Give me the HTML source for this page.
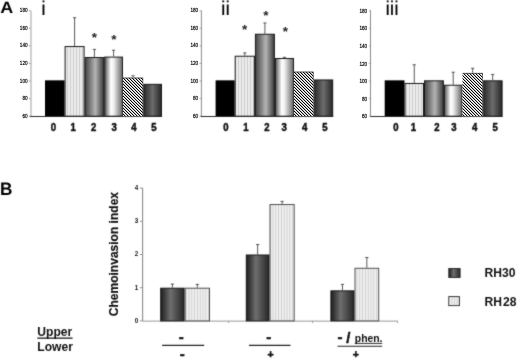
<!DOCTYPE html>
<html lang="en"><head><meta charset="utf-8"><title>Figure</title>
<style>
html,body{margin:0;padding:0;background:#fff;}
body{width:520px;height:358px;overflow:hidden;}
svg{display:block;font-family:"Liberation Sans", Arial, Helvetica, sans-serif;}
</style></head><body>
<svg width="520" height="358" viewBox="0 0 520 358">
<defs>
<filter id="soft" x="0" y="0" width="520" height="358" filterUnits="userSpaceOnUse" color-interpolation-filters="sRGB"><feConvolveMatrix order="3" kernelMatrix="1 3 1 3 24 3 1 3 1" divisor="40" edgeMode="duplicate" preserveAlpha="false"/></filter>
<pattern id="pStripe" width="3" height="8" patternUnits="userSpaceOnUse"><rect width="3" height="8" fill="#ececec"/><rect x="1" width="1" height="8" fill="#cdcdcd"/></pattern>
<pattern id="pStripeB" width="2.8" height="8" patternUnits="userSpaceOnUse"><rect width="2.8" height="8" fill="#f1f1f1"/><rect x="1" width="0.9" height="8" fill="#cccccc"/></pattern>
<pattern id="pHatch" width="3" height="3" patternUnits="userSpaceOnUse" shape-rendering="crispEdges"><rect width="3" height="3" fill="#fff"/><path d="M0 0h1v1h-1zM1 1h1v1h-1zM2 2h1v1h-1z" fill="#000"/><path d="M1 0h1v1h-1zM2 1h1v1h-1zM0 2h1v1h-1z" fill="#c0c0c0"/></pattern>
<linearGradient id="gMid" x1="0" x2="1" y1="0" y2="0" gradientUnits="objectBoundingBox"><stop offset="0" stop-color="#444"/><stop offset="0.55" stop-color="#b4b4b4"/><stop offset="1" stop-color="#3a3a3a"/></linearGradient>
<linearGradient id="gLight" x1="0" x2="1" y1="0" y2="0"><stop offset="0" stop-color="#555"/><stop offset="0.35" stop-color="#fff"/><stop offset="0.5" stop-color="#f0f0f0"/><stop offset="1" stop-color="#666"/></linearGradient>
<linearGradient id="gDark" x1="0" x2="1" y1="0" y2="0"><stop offset="0" stop-color="#2a2a2a"/><stop offset="0.5" stop-color="#6c6c6c"/><stop offset="1" stop-color="#262626"/></linearGradient>
<linearGradient id="gDarkB" x1="0" x2="1" y1="0" y2="0"><stop offset="0" stop-color="#1c1c1c"/><stop offset="0.42" stop-color="#6e6e6e"/><stop offset="1" stop-color="#262626"/></linearGradient>
</defs>
<rect width="520" height="358" fill="#fff"/>
<g filter="url(#soft)">
<text transform="translate(0.3 13.4) scale(1.09 1)" text-rendering="geometricPrecision" font-size="16.5" font-weight="bold" fill="#000">A</text>
<path d="M31.00 10.70V116.20" stroke="#b2b2b2" stroke-width="1.25" fill="none"/>
<path d="M28.80 116.20H30.60" stroke="#888" stroke-width="0.8"/>
<path d="M28.80 98.62H30.60" stroke="#888" stroke-width="0.8"/>
<path d="M28.80 81.03H30.60" stroke="#888" stroke-width="0.8"/>
<path d="M28.80 63.45H30.60" stroke="#888" stroke-width="0.8"/>
<path d="M28.80 45.87H30.60" stroke="#888" stroke-width="0.8"/>
<path d="M28.80 28.28H30.60" stroke="#888" stroke-width="0.8"/>
<path d="M28.80 10.70H30.60" stroke="#888" stroke-width="0.8"/>
<rect x="45.00" y="80.33" width="19.60" height="35.87" fill="#000"/>
<rect x="65.10" y="46.55" width="19.00" height="69.65" fill="url(#pStripe)" stroke="#1a1a1a" stroke-width="1"/>
<rect x="85.10" y="57.54" width="18.60" height="58.66" fill="url(#gMid)" stroke="#1a1a1a" stroke-width="1"/>
<rect x="104.70" y="57.10" width="17.80" height="59.10" fill="url(#gLight)" stroke="#1a1a1a" stroke-width="1"/>
<rect x="143.60" y="84.35" width="17.90" height="31.85" fill="url(#gDark)" stroke="#1a1a1a" stroke-width="1"/>
<path d="M74.60 46.05V17.73M73.00 17.73H76.20" stroke="#3a3a3a" stroke-width="0.85" fill="none"/>
<path d="M94.40 57.04V49.38M92.80 49.38H96.00" stroke="#3a3a3a" stroke-width="0.85" fill="none"/>
<path d="M113.60 56.60V50.26M112.00 50.26H115.20" stroke="#3a3a3a" stroke-width="0.85" fill="none"/>
<path d="M133.05 77.52V75.76M131.45 75.76H134.65" stroke="#3a3a3a" stroke-width="0.85" fill="none"/>
<path d="M30.10 116.50H162.00" stroke="#2a2a2a" stroke-width="1.05" fill="none"/>
<text x="94.30" y="41.60" font-size="13.5" font-weight="bold" text-anchor="middle" fill="#222">*</text>
<text x="113.80" y="44.20" font-size="13.5" font-weight="bold" text-anchor="middle" fill="#222">*</text>
<text transform="translate(53.40 131.2) scale(0.9 1)" font-size="10.6" font-weight="bold" text-anchor="middle" fill="#111" stroke="#111" stroke-width="0.5">0</text>
<text transform="translate(73.20 131.2) scale(0.9 1)" font-size="10.6" font-weight="bold" text-anchor="middle" fill="#111" stroke="#111" stroke-width="0.5">1</text>
<text transform="translate(93.60 131.2) scale(0.9 1)" font-size="10.6" font-weight="bold" text-anchor="middle" fill="#111" stroke="#111" stroke-width="0.5">2</text>
<text transform="translate(114.20 131.2) scale(0.9 1)" font-size="10.6" font-weight="bold" text-anchor="middle" fill="#111" stroke="#111" stroke-width="0.5">3</text>
<text transform="translate(134.00 131.2) scale(0.9 1)" font-size="10.6" font-weight="bold" text-anchor="middle" fill="#111" stroke="#111" stroke-width="0.5">4</text>
<text transform="translate(153.90 131.2) scale(0.9 1)" font-size="10.6" font-weight="bold" text-anchor="middle" fill="#111" stroke="#111" stroke-width="0.5">5</text>
<text x="41.15" y="14.8" font-size="20" text-rendering="geometricPrecision" fill="#000" stroke="#000" stroke-width="0.1" letter-spacing="0">i</text>
<path d="M201.40 10.70V116.20" stroke="#8c8c8c" stroke-width="1.0" fill="none"/>
<path d="M199.50 116.20H201.30" stroke="#888" stroke-width="0.8"/>
<path d="M199.50 98.62H201.30" stroke="#888" stroke-width="0.8"/>
<path d="M199.50 81.03H201.30" stroke="#888" stroke-width="0.8"/>
<path d="M199.50 63.45H201.30" stroke="#888" stroke-width="0.8"/>
<path d="M199.50 45.87H201.30" stroke="#888" stroke-width="0.8"/>
<path d="M199.50 28.28H201.30" stroke="#888" stroke-width="0.8"/>
<path d="M199.50 10.70H201.30" stroke="#888" stroke-width="0.8"/>
<rect x="215.60" y="80.33" width="19.10" height="35.87" fill="#000"/>
<rect x="235.20" y="56.22" width="19.20" height="59.98" fill="url(#pStripe)" stroke="#1a1a1a" stroke-width="1"/>
<rect x="255.40" y="34.24" width="19.00" height="81.96" fill="url(#gMid)" stroke="#1a1a1a" stroke-width="1"/>
<rect x="275.40" y="58.50" width="18.10" height="57.70" fill="url(#gLight)" stroke="#1a1a1a" stroke-width="1"/>
<rect x="314.10" y="79.95" width="18.60" height="36.25" fill="url(#gDark)" stroke="#1a1a1a" stroke-width="1"/>
<path d="M244.80 55.72V52.90M243.20 52.90H246.40" stroke="#3a3a3a" stroke-width="0.85" fill="none"/>
<path d="M264.90 33.74V23.01M263.30 23.01H266.50" stroke="#3a3a3a" stroke-width="0.85" fill="none"/>
<path d="M284.45 58.00V57.30M282.85 57.30H286.05" stroke="#3a3a3a" stroke-width="0.85" fill="none"/>
<path d="M200.80 116.50H333.20" stroke="#2a2a2a" stroke-width="1.05" fill="none"/>
<text x="244.70" y="34.40" font-size="13.5" font-weight="bold" text-anchor="middle" fill="#222">*</text>
<text x="265.80" y="20.10" font-size="13.5" font-weight="bold" text-anchor="middle" fill="#222">*</text>
<text x="285.40" y="35.80" font-size="13.5" font-weight="bold" text-anchor="middle" fill="#222">*</text>
<text transform="translate(225.80 131.2) scale(0.9 1)" font-size="10.6" font-weight="bold" text-anchor="middle" fill="#111" stroke="#111" stroke-width="0.5">0</text>
<text transform="translate(245.80 131.2) scale(0.9 1)" font-size="10.6" font-weight="bold" text-anchor="middle" fill="#111" stroke="#111" stroke-width="0.5">1</text>
<text transform="translate(266.80 131.2) scale(0.9 1)" font-size="10.6" font-weight="bold" text-anchor="middle" fill="#111" stroke="#111" stroke-width="0.5">2</text>
<text transform="translate(284.20 131.2) scale(0.9 1)" font-size="10.6" font-weight="bold" text-anchor="middle" fill="#111" stroke="#111" stroke-width="0.5">3</text>
<text transform="translate(304.70 131.2) scale(0.9 1)" font-size="10.6" font-weight="bold" text-anchor="middle" fill="#111" stroke="#111" stroke-width="0.5">4</text>
<text transform="translate(324.80 131.2) scale(0.9 1)" font-size="10.6" font-weight="bold" text-anchor="middle" fill="#111" stroke="#111" stroke-width="0.5">5</text>
<text x="220.90" y="14.8" font-size="20" text-rendering="geometricPrecision" fill="#000" stroke="#000" stroke-width="0.1" letter-spacing="0.25">ii</text>
<path d="M370.50 10.70V116.20" stroke="#8c8c8c" stroke-width="1.0" fill="none"/>
<path d="M369.20 116.20H371.00" stroke="#888" stroke-width="0.8"/>
<path d="M369.20 98.62H371.00" stroke="#888" stroke-width="0.8"/>
<path d="M369.20 81.03H371.00" stroke="#888" stroke-width="0.8"/>
<path d="M369.20 63.45H371.00" stroke="#888" stroke-width="0.8"/>
<path d="M369.20 45.87H371.00" stroke="#888" stroke-width="0.8"/>
<path d="M369.20 28.28H371.00" stroke="#888" stroke-width="0.8"/>
<path d="M369.20 10.70H371.00" stroke="#888" stroke-width="0.8"/>
<rect x="384.70" y="80.33" width="19.80" height="35.87" fill="#000"/>
<rect x="405.00" y="83.47" width="18.50" height="32.73" fill="url(#pStripe)" stroke="#1a1a1a" stroke-width="1"/>
<rect x="424.50" y="80.83" width="18.90" height="35.37" fill="url(#gMid)" stroke="#1a1a1a" stroke-width="1"/>
<rect x="444.40" y="85.23" width="17.60" height="30.97" fill="url(#gLight)" stroke="#1a1a1a" stroke-width="1"/>
<rect x="483.30" y="80.83" width="18.80" height="35.37" fill="url(#gDark)" stroke="#1a1a1a" stroke-width="1"/>
<path d="M414.25 82.97V64.77M412.65 64.77H415.85" stroke="#3a3a3a" stroke-width="0.85" fill="none"/>
<path d="M453.20 84.73V72.24M451.60 72.24H454.80" stroke="#3a3a3a" stroke-width="0.85" fill="none"/>
<path d="M472.65 72.86V68.29M471.05 68.29H474.25" stroke="#3a3a3a" stroke-width="0.85" fill="none"/>
<path d="M492.70 80.33V74.44M491.10 74.44H494.30" stroke="#3a3a3a" stroke-width="0.85" fill="none"/>
<path d="M370.50 116.50H502.60" stroke="#2a2a2a" stroke-width="1.05" fill="none"/>
<text transform="translate(395.80 131.2) scale(0.9 1)" font-size="10.6" font-weight="bold" text-anchor="middle" fill="#111" stroke="#111" stroke-width="0.5">0</text>
<text transform="translate(413.40 131.2) scale(0.9 1)" font-size="10.6" font-weight="bold" text-anchor="middle" fill="#111" stroke="#111" stroke-width="0.5">1</text>
<text transform="translate(436.80 131.2) scale(0.9 1)" font-size="10.6" font-weight="bold" text-anchor="middle" fill="#111" stroke="#111" stroke-width="0.5">2</text>
<text transform="translate(454.00 131.2) scale(0.9 1)" font-size="10.6" font-weight="bold" text-anchor="middle" fill="#111" stroke="#111" stroke-width="0.5">3</text>
<text transform="translate(474.70 131.2) scale(0.9 1)" font-size="10.6" font-weight="bold" text-anchor="middle" fill="#111" stroke="#111" stroke-width="0.5">4</text>
<text transform="translate(495.10 131.2) scale(0.9 1)" font-size="10.6" font-weight="bold" text-anchor="middle" fill="#111" stroke="#111" stroke-width="0.5">5</text>
<text x="385.55" y="14.8" font-size="20" text-rendering="geometricPrecision" fill="#000" stroke="#000" stroke-width="0.1" letter-spacing="-0.15">iii</text>
<text transform="translate(0.1 194.9) scale(0.955 1)" text-rendering="geometricPrecision" font-size="18" font-weight="bold" fill="#000">B</text>
<path d="M142.6 188.10V320.9" stroke="#8a8a8a" stroke-width="1.1" fill="none"/>
<path d="M139.90 320.90H142.9" stroke="#8a8a8a" stroke-width="0.9"/>
<text transform="translate(138.30 322.80) scale(0.9 1)" font-size="7" font-weight="bold" text-anchor="end" fill="#111">0</text>
<path d="M139.90 287.70H142.9" stroke="#8a8a8a" stroke-width="0.9"/>
<text transform="translate(138.30 289.60) scale(0.9 1)" font-size="7" font-weight="bold" text-anchor="end" fill="#111">1</text>
<path d="M139.90 254.50H142.9" stroke="#8a8a8a" stroke-width="0.9"/>
<text transform="translate(138.30 256.40) scale(0.9 1)" font-size="7" font-weight="bold" text-anchor="end" fill="#111">2</text>
<path d="M139.90 221.30H142.9" stroke="#8a8a8a" stroke-width="0.9"/>
<text transform="translate(138.30 223.20) scale(0.9 1)" font-size="7" font-weight="bold" text-anchor="end" fill="#111">3</text>
<path d="M139.90 188.10H142.9" stroke="#8a8a8a" stroke-width="0.9"/>
<text transform="translate(138.30 190.00) scale(0.9 1)" font-size="7" font-weight="bold" text-anchor="end" fill="#111">4</text>
<path d="M142.9 321.09999999999997H397.6" stroke="#999" stroke-width="1" fill="none"/>
<path d="M228.6 320.9V323.09999999999997" stroke="#999" stroke-width="0.9"/>
<path d="M312.5 320.9V323.09999999999997" stroke="#999" stroke-width="0.9"/>
<path d="M397.6 320.9V323.09999999999997" stroke="#999" stroke-width="0.9"/>
<rect x="160.70" y="288.20" width="23.40" height="32.70" fill="url(#gDarkB)" stroke="#1a1a1a" stroke-width="1"/>
<rect x="185.10" y="288.20" width="24.40" height="32.70" fill="url(#pStripeB)" stroke="#505050" stroke-width="1"/>
<path d="M172.40 287.70V284.05M170.80 284.05H174.00" stroke="#3a3a3a" stroke-width="0.85" fill="none"/>
<path d="M197.30 287.70V284.38M195.70 284.38H198.90" stroke="#3a3a3a" stroke-width="0.85" fill="none"/>
<rect x="246.30" y="255.00" width="22.70" height="65.90" fill="url(#gDarkB)" stroke="#1a1a1a" stroke-width="1"/>
<rect x="270.00" y="204.54" width="24.20" height="116.36" fill="url(#pStripeB)" stroke="#505050" stroke-width="1"/>
<path d="M257.65 254.50V244.54M256.05 244.54H259.25" stroke="#3a3a3a" stroke-width="0.85" fill="none"/>
<path d="M282.10 204.04V201.38M280.50 201.38H283.70" stroke="#3a3a3a" stroke-width="0.85" fill="none"/>
<rect x="330.90" y="290.86" width="23.10" height="30.04" fill="url(#gDarkB)" stroke="#1a1a1a" stroke-width="1"/>
<rect x="355.00" y="268.28" width="23.70" height="52.62" fill="url(#pStripeB)" stroke="#505050" stroke-width="1"/>
<path d="M342.45 290.36V284.38M340.85 284.38H344.05" stroke="#3a3a3a" stroke-width="0.85" fill="none"/>
<path d="M366.85 267.78V257.49M365.25 257.49H368.45" stroke="#3a3a3a" stroke-width="0.85" fill="none"/>
<text transform="translate(118.1 254.1) rotate(-90) scale(0.925 1)" font-size="13" font-weight="bold" text-anchor="middle" fill="#111" stroke="#111" stroke-width="0.2">Chemoinvasion index</text>
<text x="37.3" y="336.2" font-size="12.1" font-weight="bold" fill="#111">Upper</text>
<path d="M37.3 338.1H72.6" stroke="#111" stroke-width="1.1"/>
<text x="37.3" y="350.7" font-size="12.1" font-weight="bold" fill="#111">Lower</text>
<text x="181.20" y="342.20" font-size="15" font-weight="bold" text-anchor="middle" fill="#111" stroke="#111" stroke-width="0.45">-</text>
<text x="182.30" y="359.10" font-size="15" font-weight="bold" text-anchor="middle" fill="#111" stroke="#111" stroke-width="0.45">-</text>
<path d="M162.1 345.4H204.2" stroke="#222" stroke-width="1.1"/>
<text x="268.80" y="342.20" font-size="15" font-weight="bold" text-anchor="middle" fill="#111" stroke="#111" stroke-width="0.45">-</text>
<text x="270.60" y="358.20" font-size="10.5" font-weight="bold" text-anchor="middle" fill="#111" stroke="#111" stroke-width="0.45">+</text>
<path d="M248.9 345.4H290.5" stroke="#222" stroke-width="1.1"/>
<text x="340.10" y="342.20" font-size="15" font-weight="bold" text-anchor="middle" fill="#111" stroke="#111" stroke-width="0.45">-</text>
<text x="348.40" y="342.60" font-size="15" font-weight="bold" text-anchor="middle" fill="#111" stroke="#111" stroke-width="0.45">/</text>
<text x="354.8" y="342" font-size="10.4" font-weight="bold" fill="#111">phen.</text>
<path d="M354.8 343.4H382.2" stroke="#111" stroke-width="0.9"/>
<path d="M337.5 346.2H382.2" stroke="#222" stroke-width="1.1"/>
<text x="355.70" y="358.20" font-size="10.5" font-weight="bold" text-anchor="middle" fill="#111" stroke="#111" stroke-width="0.45">+</text>
<rect x="448.8" y="268.5" width="11.3" height="9" fill="url(#gDarkB)" stroke="#333" stroke-width="1"/>
<rect x="448.8" y="296.6" width="10.6" height="9" fill="#f6f6f6" stroke="#333" stroke-width="1"/>
<path d="M452 297V305.4M454.6 297V305.4M457.2 297V305.4" stroke="#bdbdbd" stroke-width="0.8"/>
<text x="484.6" y="276.7" font-size="12.1" font-weight="bold" fill="#111">RH30</text>
<text x="484.6" y="305.6" font-size="12.1" font-weight="bold" fill="#111">RH<tspan dx="1">28</tspan></text>
</g>
<text transform="translate(27.60 117.75) scale(0.76 1)" font-size="6.1" text-rendering="geometricPrecision" text-anchor="end" fill="#000" stroke="#000" stroke-width="0.2">60</text>
<text transform="translate(27.60 100.17) scale(0.76 1)" font-size="6.1" text-rendering="geometricPrecision" text-anchor="end" fill="#000" stroke="#000" stroke-width="0.2">80</text>
<text transform="translate(27.60 82.58) scale(0.76 1)" font-size="6.1" text-rendering="geometricPrecision" text-anchor="end" fill="#000" stroke="#000" stroke-width="0.2">100</text>
<text transform="translate(27.60 65.00) scale(0.76 1)" font-size="6.1" text-rendering="geometricPrecision" text-anchor="end" fill="#000" stroke="#000" stroke-width="0.2">120</text>
<text transform="translate(27.60 47.42) scale(0.76 1)" font-size="6.1" text-rendering="geometricPrecision" text-anchor="end" fill="#000" stroke="#000" stroke-width="0.2">140</text>
<text transform="translate(27.60 29.83) scale(0.76 1)" font-size="6.1" text-rendering="geometricPrecision" text-anchor="end" fill="#000" stroke="#000" stroke-width="0.2">160</text>
<text transform="translate(27.60 12.25) scale(0.76 1)" font-size="6.1" text-rendering="geometricPrecision" text-anchor="end" fill="#000" stroke="#000" stroke-width="0.2">180</text>
<rect x="123.00" y="77.82" width="20.10" height="38.38" fill="url(#pHatch)"/>
<path d="M123.00 78.02H143.10" stroke="#333" stroke-width="0.8"/>
<path d="M142.80 78.02V116.20" stroke="#444" stroke-width="0.6"/>
<text transform="translate(198.20 117.75) scale(0.76 1)" font-size="6.1" text-rendering="geometricPrecision" text-anchor="end" fill="#000" stroke="#000" stroke-width="0.2">60</text>
<text transform="translate(198.20 100.17) scale(0.76 1)" font-size="6.1" text-rendering="geometricPrecision" text-anchor="end" fill="#000" stroke="#000" stroke-width="0.2">80</text>
<text transform="translate(198.20 82.58) scale(0.76 1)" font-size="6.1" text-rendering="geometricPrecision" text-anchor="end" fill="#000" stroke="#000" stroke-width="0.2">100</text>
<text transform="translate(198.20 65.00) scale(0.76 1)" font-size="6.1" text-rendering="geometricPrecision" text-anchor="end" fill="#000" stroke="#000" stroke-width="0.2">120</text>
<text transform="translate(198.20 47.42) scale(0.76 1)" font-size="6.1" text-rendering="geometricPrecision" text-anchor="end" fill="#000" stroke="#000" stroke-width="0.2">140</text>
<text transform="translate(198.20 29.83) scale(0.76 1)" font-size="6.1" text-rendering="geometricPrecision" text-anchor="end" fill="#000" stroke="#000" stroke-width="0.2">160</text>
<text transform="translate(198.20 12.25) scale(0.76 1)" font-size="6.1" text-rendering="geometricPrecision" text-anchor="end" fill="#000" stroke="#000" stroke-width="0.2">180</text>
<rect x="294.00" y="71.84" width="19.60" height="44.36" fill="url(#pHatch)"/>
<path d="M294.00 72.04H313.60" stroke="#333" stroke-width="0.8"/>
<path d="M313.30 72.04V116.20" stroke="#444" stroke-width="0.6"/>
<text transform="translate(367.20 118.25) scale(0.76 1)" font-size="6.1" text-rendering="geometricPrecision" text-anchor="end" fill="#000" stroke="#000" stroke-width="0.2">60</text>
<text transform="translate(367.20 100.67) scale(0.76 1)" font-size="6.1" text-rendering="geometricPrecision" text-anchor="end" fill="#000" stroke="#000" stroke-width="0.2">80</text>
<text transform="translate(367.20 83.08) scale(0.76 1)" font-size="6.1" text-rendering="geometricPrecision" text-anchor="end" fill="#000" stroke="#000" stroke-width="0.2">100</text>
<text transform="translate(367.20 65.50) scale(0.76 1)" font-size="6.1" text-rendering="geometricPrecision" text-anchor="end" fill="#000" stroke="#000" stroke-width="0.2">120</text>
<text transform="translate(367.20 47.92) scale(0.76 1)" font-size="6.1" text-rendering="geometricPrecision" text-anchor="end" fill="#000" stroke="#000" stroke-width="0.2">140</text>
<text transform="translate(367.20 30.33) scale(0.76 1)" font-size="6.1" text-rendering="geometricPrecision" text-anchor="end" fill="#000" stroke="#000" stroke-width="0.2">160</text>
<text transform="translate(367.20 12.75) scale(0.76 1)" font-size="6.1" text-rendering="geometricPrecision" text-anchor="end" fill="#000" stroke="#000" stroke-width="0.2">180</text>
<rect x="462.50" y="73.16" width="20.30" height="43.04" fill="url(#pHatch)"/>
<path d="M462.50 73.36H482.80" stroke="#333" stroke-width="0.8"/>
<path d="M482.50 73.36V116.20" stroke="#444" stroke-width="0.6"/>
</svg>
</body></html>
